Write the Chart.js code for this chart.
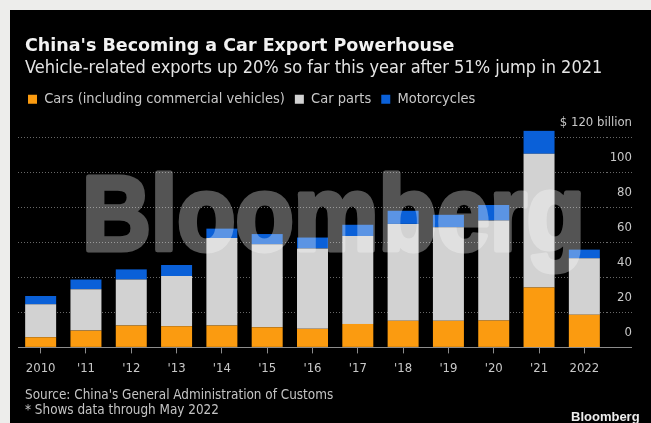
<!DOCTYPE html>
<html>
<head>
<meta charset="utf-8">
<script src="https://cdn.jsdelivr.net/npm/chart.js@4.4.0/dist/chart.umd.min.js"></script>
<style>
  html, body { margin: 0; padding: 0; }
  body { width: 651px; height: 423px; background: #ededeb; overflow: hidden; position: relative; }
  #panel { position: absolute; left: 10px; top: 10px; width: 641px; height: 413px; background: #000; overflow: hidden; }
  #plot { position: absolute; left: 0; top: 0; }
  .txt { position: absolute; white-space: nowrap; font-family: 'DejaVu Sans Condensed', 'DejaVu Sans', sans-serif; }
  #title { left: 15px; top: 25px; font: bold 17.5px/20px 'DejaVu Sans', sans-serif; color: #f2f2f2; }
  #subtitle { left: 15px; top: 47px; font-size: 18px; line-height: 20px; color: #e4e4e4; }
  #source { left: 15px; top: 377px; font-size: 13.4px; line-height: 16px; color: #c4c4c4; }
  #note { left: 15px; top: 392px; font-size: 13.4px; line-height: 16px; color: #c4c4c4; }
  #logo { left: 561px; top: 399px; font: bold 13px/16px 'Liberation Sans', Arial, sans-serif; color: #ececec; }
</style>
</head>
<body>
<div id="panel">
  <canvas id="plot" width="641" height="413"></canvas>
  <div class="txt" id="title">China's Becoming a Car Export Powerhouse</div>
  <div class="txt" id="subtitle">Vehicle-related exports up 20% so far this year after 51% jump in 2021</div>
  <div class="txt" id="source">Source: China's General Administration of Customs</div>
  <div class="txt" id="note">* Shows data through May 2022</div>
  <div class="txt" id="logo">Bloomberg</div>
</div>
<script>
// $ billion
const years = ['2010', "'11", "'12", "'13", "'14", "'15", "'16", "'17", "'18", "'19", "'20", "'21", '2022'];
const cars = [5.8, 9.6, 12.5, 12.1, 12.5, 11.5, 10.6, 13.4, 15.2, 15.2, 15.4, 34.2, 18.6];
const carParts = [18.8, 23.7, 26.3, 28.7, 50.0, 47.5, 46.0, 50.3, 55.4, 53.5, 57.2, 76.5, 32.3];
const motorcycles = [4.8, 5.5, 5.8, 6.3, 5.4, 5.8, 6.2, 6.4, 7.5, 7.1, 8.8, 13.1, 5.0];
const yMax = 120;
const yStep = 20;

const condensed = "'DejaVu Sans Condensed', 'DejaVu Sans', sans-serif";
const gridColor = 'rgba(190,190,190,0.55)';
const baseColor = '#8c8c8c';

// push the plot area down below the legend
const legendSpacer = {
  id: 'legendSpacer',
  beforeInit(chart) {
    const fit = chart.legend.fit;
    chart.legend.fit = function () {
      fit.call(this);
      this.height += 21;
    };
  }
};

// heavy grey "Bloomberg" watermark over the bars
const watermark = {
  id: 'watermark',
  afterDatasetsDraw(chart) {
    const off = document.createElement('canvas');
    off.width = chart.width;
    off.height = chart.height;
    const o = off.getContext('2d');
    o.font = 'bold 106px "Liberation Sans", Arial, sans-serif';
    o.textBaseline = 'alphabetic';
    o.textAlign = 'left';
    const w = o.measureText('Bloomberg').width;
    o.translate(72, 240);
    o.scale(503 / w, 1);
    o.fillStyle = '#fff';
    o.strokeStyle = '#fff';
    o.lineWidth = 5;
    o.lineJoin = 'round';
    o.fillText('Bloomberg', 0, 0);
    o.strokeText('Bloomberg', 0, 0);

    const ctx = chart.ctx;
    ctx.save();
    ctx.globalAlpha = 0.33;
    ctx.drawImage(off, 0, 0);
    ctx.restore();
  }
};

const data = {
  labels: years,
  datasets: [
    { label: 'Cars (including commercial vehicles)', data: cars, backgroundColor: '#fb9b10' },
    { label: 'Car parts', data: carParts, backgroundColor: '#d2d2d2' },
    { label: 'Motorcycles', data: motorcycles, backgroundColor: '#0a60d8' }
  ]
};

const config = {
  type: 'bar',
  data: data,
  options: {
    responsive: false,
    animation: false,
    layout: { padding: { left: 8, right: 19, top: 72, bottom: 40 } },
    datasets: {
      bar: { borderWidth: 0, categoryPercentage: 0.684, barPercentage: 1, clip: false }
    },
    plugins: {
      legend: {
        position: 'top',
        align: 'start',
        labels: {
          boxWidth: 9,
          boxHeight: 9,
          padding: 10,
          color: '#c8c8c8',
          font: { family: condensed, size: 14.5 }
        }
      },
      tooltip: { enabled: false }
    },
    scales: {
      x: {
        stacked: true,
        grid: { display: true, drawOnChartArea: false, drawTicks: true, tickLength: 6, tickColor: baseColor, offset: false },
        border: { display: true, color: baseColor, width: 1 },
        ticks: { color: '#c8c8c8', font: { family: condensed, size: 13 }, padding: 7, maxRotation: 0, autoSkip: false }
      },
      y: {
        stacked: true,
        position: 'right',
        min: 0,
        max: yMax,
        afterFit(scale) {
          scale.width = 25;
          // let the "$ 120 billion" label run into the plot area
          scale._computeLabelArea = () => undefined;
        },
        grid: {
          color: c => (c.tick && c.tick.value === 0) ? 'rgba(0,0,0,0)' : gridColor,
          tickColor: c => (c.tick && c.tick.value === 0) ? baseColor : gridColor,
          tickBorderDash: c => (c.tick && c.tick.value === 0) ? [] : [1, 2],
          tickLength: 25,
          lineWidth: 1
        },
        border: { display: false, dash: [1, 2] },
        ticks: {
          stepSize: yStep,
          crossAlign: 'far',
          labelOffset: -15,
          padding: 0,
          color: '#c8c8c8',
          font: { family: condensed, size: 13 },
          callback: v => v === yMax ? '$ ' + v + ' billion' : v
        }
      }
    }
  },
  plugins: [legendSpacer, watermark]
};

let ctx = document.getElementById('plot').getContext('2d');
let chart = new Chart(ctx, config);
</script>
</body>
</html>
